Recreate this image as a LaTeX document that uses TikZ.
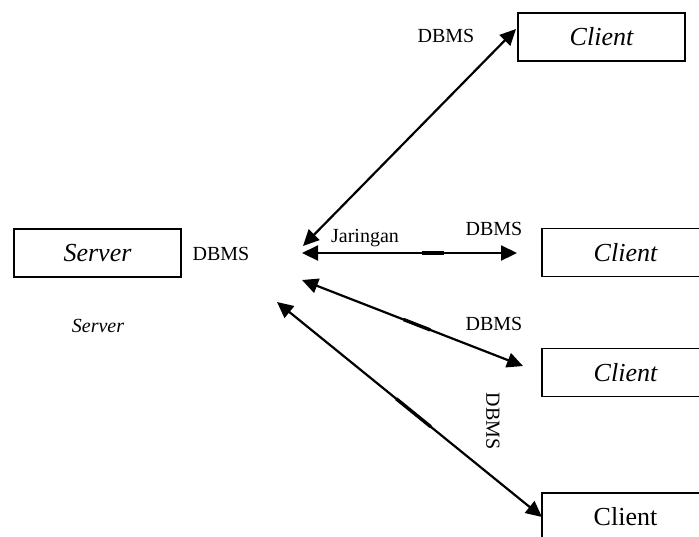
\documentclass[tikz,border=0pt]{standalone}
\usepackage{fontspec}
\setmainfont{Liberation Serif}
\usetikzlibrary{arrows.meta,calc}
\begin{document}
\begin{tikzpicture}[x=0.5pt,y=-0.5pt,
  box/.style={draw,line width=0.75pt,minimum width=83.5pt,minimum height=24pt,inner sep=0pt,font=\fontsize{13}{15}\selectfont},
  lbl/.style={anchor=base,inner sep=0pt,font=\fontsize{10}{12}\selectfont},
  link/.style={line width=1.1pt,{Triangle[length=8pt,width=7.5pt]}-{Triangle[length=8pt,width=7.5pt]}},
  thick2/.style={line width=1.7pt}]
\clip (0,0) rectangle (699,536);
\fill[white] (0,0) rectangle (699,536);
% boxes
\node[box] (server) at (97.5,253) {\itshape Server};
\node[box] (c1) at (601.5,37) {\itshape Client};
\node[box] (c2) at (625.5,252.5) {\itshape Client};
\node[box] (c3) at (625.5,372.5) {\itshape Client};
\node[box] (c4) at (625.5,517) {Client};
% end points
\coordinate (a1s) at (303,246); \coordinate (a1e) at (516,29);
\coordinate (a2s) at (302,253); \coordinate (a2e) at (517,253);
\coordinate (a3s) at (302,280); \coordinate (a3e) at (523,366);
\coordinate (a4s) at (277,302); \coordinate (a4e) at (542,517);
\draw[link] (a1s) -- (a1e);
\draw[link] (a2s) -- (a2e);
\draw[link] (a3s) -- (a3e);
\draw[link] (a4s) -- (a4e);
% overlap marks
\draw[thick2] ($(a2s)!0.56!(a2e)$) -- ($(a2s)!0.66!(a2e)$);
\draw[thick2] ($(a3s)!0.46!(a3e)$) -- ($(a3s)!0.58!(a3e)$);
\draw[thick2] ($(a4s)!0.45!(a4e)$) -- ($(a4s)!0.58!(a4e)$);
% labels
\node[lbl] (l1) at (446,42) {DBMS};
\node[lbl] (l0) at (221,260) {DBMS};
\node[lbl] (lj) at (365,242) {Jaringan};
\node[lbl] (l2) at (494,235) {DBMS};
\node[lbl] (l3) at (494,330) {DBMS};
\node[inner sep=0pt,rotate=-90,font=\fontsize{10}{12}\selectfont] (l4) at (493,421) {DBMS};
\node[lbl,font=\fontsize{10}{12}\selectfont\itshape] (sl) at (98,332) {Server};
\end{tikzpicture}
\end{document}
